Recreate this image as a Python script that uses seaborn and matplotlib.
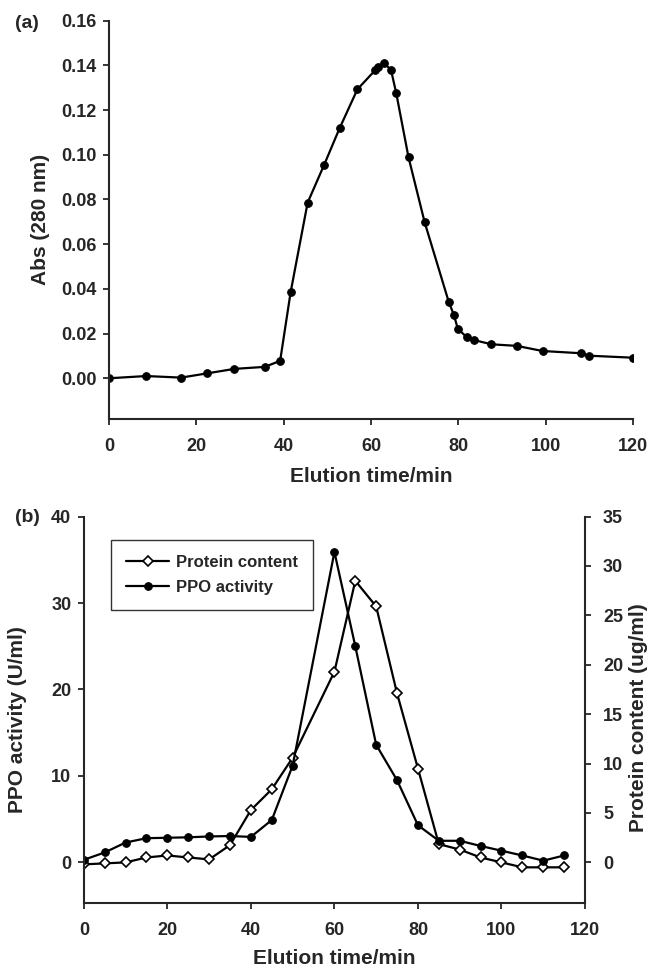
import matplotlib
matplotlib.use("Agg")
import matplotlib.pyplot as plt
import seaborn as sns

# === Data: (a) absorbance at 280 nm ===
time_a = [0, 8.5, 16.5, 22.5, 28.7, 35.7, 39.2, 41.6, 45.5, 49.3, 52.8, 56.9,
          61.0, 61.6, 63.0, 64.6, 65.8, 68.6, 72.3, 77.8, 79.0, 79.9, 82.0,
          83.6, 87.6, 93.4, 99.3, 108.1, 110.0, 120.0]
abs_280 = [0.000, 0.001, 0.0003, 0.0022, 0.0042, 0.0051, 0.0078, 0.0385,
           0.0786, 0.0956, 0.1118, 0.1293, 0.1379, 0.1394, 0.1411, 0.1379,
           0.1275, 0.0989, 0.0698, 0.0343, 0.0283, 0.0221, 0.0183, 0.0171,
           0.0152, 0.0145, 0.0122, 0.0112, 0.0101, 0.0092]

# === Data: (b) PPO activity and protein content ===
time_b = [0, 5, 10, 15, 20, 25, 30, 35, 40, 45, 50, 60, 65, 70, 75, 80, 85,
          90, 95, 100, 105, 110, 115]
ppo_activity = [0.3, 1.15, 2.3, 2.8, 2.85, 2.9, 3.0, 3.05, 2.95, 4.9, 11.2,
                35.9, 25.0, 13.6, 9.5, 4.3, 2.5, 2.5, 1.9, 1.35, 0.8, 0.2, 0.8]
protein_content = [-0.2, -0.1, 0.0, 0.5, 0.7, 0.5, 0.3, 1.75, 5.3, 7.4, 10.6,
                   19.3, 28.5, 25.9, 17.1, 9.5, 1.85, 1.3, 0.5, 0.0, -0.5,
                   -0.5, -0.5]

sns.set_style("ticks")
plt.rcParams["font.family"] = ["Liberation Sans", "DejaVu Sans"]
plt.rcParams["font.weight"] = "bold"
plt.rcParams["axes.labelweight"] = "bold"
plt.rcParams["axes.linewidth"] = 1.5
plt.rcParams["xtick.direction"] = "out"
plt.rcParams["ytick.direction"] = "out"

fig = plt.figure(figsize=(6.5, 9.71), dpi=100)
ax_a = fig.add_axes([0.1677, 0.569, 0.806, 0.4097])
ax_b = fig.add_axes([0.129, 0.070, 0.771, 0.398])

tick_fs = 13
label_fs = 15

# === Panel (a) ===
sns.lineplot(x=time_a, y=abs_280, ax=ax_a, color="black", linewidth=1.6,
             marker="o", markersize=5.5, markeredgecolor="black", sort=False)
ax_a.set_xlim(0, 120)
ax_a.set_ylim(-0.018, 0.16)
ax_a.set_xticks(range(0, 121, 20))
ax_a.set_yticks([0, 0.02, 0.04, 0.06, 0.08, 0.10, 0.12, 0.14, 0.16])
ax_a.set_yticklabels([f"{v:.2f}" for v in ax_a.get_yticks()])
ax_a.tick_params(axis="y", length=4, width=1.3, pad=5, labelsize=tick_fs)
ax_a.tick_params(axis="x", length=4, width=1.3, pad=10, labelsize=tick_fs)
for s in ["top", "right"]:
    ax_a.spines[s].set_visible(False)
ax_a.set_xlabel("Elution time/min", fontsize=label_fs)
ax_a.set_ylabel("Abs (280 nm)", fontsize=label_fs)
ax_a.xaxis.set_label_coords(0.5, -0.122)
ax_a.yaxis.set_label_coords(-0.1135, 0.5)
fig.text(0.042, 0.976, "(a)", fontsize=14, fontweight="bold", ha="center", va="center")

# === Panel (b) ===
ax_b2 = ax_b.twinx()
sns.lineplot(x=time_b, y=protein_content, ax=ax_b2, color="black", linewidth=1.6,
             marker="D", markersize=5, markerfacecolor="white",
             markeredgecolor="black", markeredgewidth=1.2, label="Protein content")
sns.lineplot(x=time_b, y=ppo_activity, ax=ax_b, color="black", linewidth=1.6,
             marker="o", markersize=5.5, markeredgecolor="black", label="PPO activity")
ax_b.set_zorder(ax_b2.get_zorder() + 1)
ax_b.patch.set_visible(False)

ax_b.set_xlim(0, 120)
ax_b.set_ylim(-4.7, 40)
ax_b2.set_ylim(-4.7 * 35 / 40, 35)
ax_b.set_xticks(range(0, 121, 20))
ax_b.set_yticks(range(0, 41, 10))
ax_b2.set_yticks(range(0, 36, 5))
ax_b.tick_params(axis="y", length=4, width=1.3, pad=5, labelsize=tick_fs)
ax_b.tick_params(axis="x", length=4, width=1.3, pad=10, labelsize=tick_fs)
ax_b2.tick_params(axis="y", length=4, width=1.3, pad=9, labelsize=tick_fs)
ax_b.spines["top"].set_visible(False)
ax_b2.spines["top"].set_visible(False)
ax_b.spines["right"].set_visible(False)
ax_b2.spines["left"].set_visible(False)
ax_b2.spines["bottom"].set_visible(False)

ax_b.set_xlabel("Elution time/min", fontsize=label_fs)
ax_b.set_ylabel("PPO activity (U/ml)", fontsize=label_fs)
ax_b2.set_ylabel("Protein content (ug/ml)", fontsize=label_fs)
ax_b.xaxis.set_label_coords(0.5, -0.119)
ax_b.yaxis.set_label_coords(-0.114, 0.474)
ax_b2.yaxis.set_label_coords(1.088, 0.48)
fig.text(0.042, 0.467, "(b)", fontsize=14, fontweight="bold", ha="center", va="center")

# one legend with both series, protein first
for a in (ax_b, ax_b2):
    if a.get_legend() is not None:
        a.get_legend().remove()
handles = [ax_b2.get_lines()[0], ax_b.get_lines()[0]]
leg = ax_b.legend(handles, ["Protein content", "PPO activity"],
                  loc="upper left", bbox_to_anchor=(0.054, 0.94),
                  fontsize=12, frameon=True, fancybox=False,
                  handlelength=2.6, handletextpad=0.4, borderpad=0.9,
                  labelspacing=0.6, borderaxespad=0)
leg.get_frame().set_edgecolor("black")
leg.get_frame().set_linewidth(1.0)

plt.savefig("out.png", dpi=100)
plt.close()
